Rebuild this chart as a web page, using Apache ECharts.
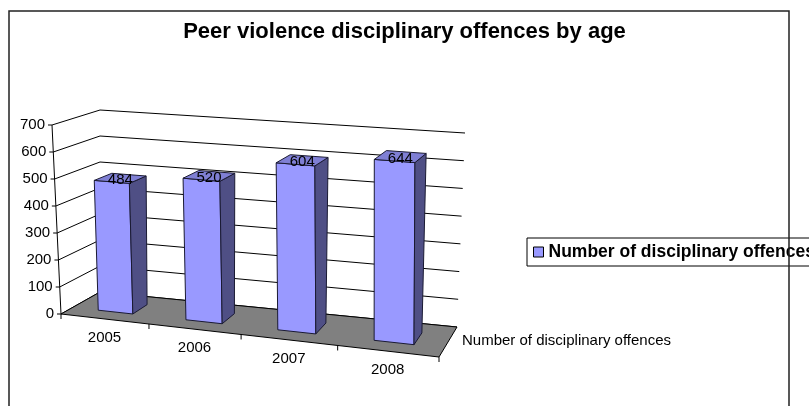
<!DOCTYPE html>
<html>
<head>
<meta charset="utf-8">
<script src="https://cdn.jsdelivr.net/npm/echarts@6/dist/echarts.min.js"></script>
<style>
  html, body { margin: 0; padding: 0; background: #fff; }
  #chart { width: 809px; height: 406px; }
</style>
</head>
<body>
<div id="chart"></div>
<script>
// ---- data ----
const years = ['2005', '2006', '2007', '2008'];
const offences = [484, 520, 604, 644];
const valueTicks = [0, 100, 200, 300, 400, 500, 600, 700];
const seriesName = 'Number of disciplinary offences';
const chartTitle = 'Peer violence disciplinary offences by age';

// ---- 3D box layout (screen corners: f/b = front/back, digits = right, top) ----
const box = {
  f00: [61, 314], f10: [439, 357], f01: [52, 125], f11: [438, 156],
  b00: [100, 292], b10: [457, 327], b01: [100, 110], b11: [465, 133]
};
const persp = -0.09;           // foreshortening along the category direction
const barDepth = [0.3, 0.7];   // bar front/back within the floor depth
const barFill = 0.4;           // bar width as a share of a category band
const FONT = '"Liberation Sans", Arial, sans-serif';

function lerp(a, b, t) { return [a[0] + (b[0] - a[0]) * t, a[1] + (b[1] - a[1]) * t]; }

// u: across categories (0..1), v: value share (0..1), w: depth (0 front .. 1 back)
function proj(u, v, w) {
  const p = (1 + persp) * u / (1 + persp * u);
  const fb = lerp(box.f00, box.f10, p), ft = lerp(box.f01, box.f11, p);
  const bb = lerp(box.b00, box.b10, p), bt = lerp(box.b01, box.b11, p);
  return lerp(lerp(fb, ft, v), lerp(bb, bt, v), w);
}

// turn a pixel from the hidden cartesian grid into unit (u, v)
function unit(params, pt) {
  const cs = params.coordSys;
  return [(pt[0] - cs.x) / cs.width, (cs.y + cs.height - pt[1]) / cs.height];
}

const chart = echarts.init(document.getElementById('chart'));

const option = {
  animation: false,
  backgroundColor: '#fff',
  title: {
    text: chartTitle,
    left: 'center',
    top: 16,
    textStyle: { fontFamily: FONT, fontSize: 22, fontWeight: 'bold', color: '#000' }
  },
  legend: {
    left: 527,
    top: 238,
    padding: [5, 6, 5, 6],
    borderColor: '#000',
    borderWidth: 1,
    itemWidth: 10,
    itemHeight: 10,
    data: [{ name: seriesName, icon: 'rect', itemStyle: { color: '#9999FF', borderColor: '#000', borderWidth: 1 } }],
    textStyle: { fontFamily: FONT, fontSize: 17.5, fontWeight: 'bold', color: '#000' },
    selectedMode: false
  },
  grid: { left: 100, top: 100, width: 400, height: 200, show: false },
  xAxis: { type: 'category', data: years, show: false },
  yAxis: { type: 'value', min: 0, max: 700, interval: 100, show: false },
  series: [
    // wall gridlines (left wall + back wall)
    {
      type: 'custom', name: 'walls', clip: false, silent: true, z: 1,
      data: valueTicks.map(v => [0, v]),
      renderItem(params, api) {
        const v = unit(params, api.coord([0, api.value(1)]))[1];
        return {
          type: 'polyline',
          shape: { points: [proj(0, v, 0), proj(0, v, 1), proj(1, v, 1)] },
          style: { stroke: '#000', lineWidth: 1, fill: null }
        };
      }
    },
    // floor
    {
      type: 'custom', name: 'floor', clip: false, silent: true, z: 2,
      data: [[0, 0]],
      renderItem(params, api) {
        const v = unit(params, api.coord([0, 0]))[1];
        return {
          type: 'polygon',
          shape: { points: [proj(0, v, 0), proj(1, v, 0), proj(1, v, 1), proj(0, v, 1)] },
          style: { fill: '#808080', stroke: '#000', lineWidth: 1 }
        };
      }
    },
    // columns
    {
      type: 'custom', name: seriesName, clip: false, silent: true, z: 3,
      itemStyle: { color: '#9999FF' },
      data: offences.map((v, i) => [i, v]),
      renderItem(params, api) {
        const i = api.value(0), val = api.value(1);
        const base = unit(params, api.coord([i, 0]));
        const top = unit(params, api.coord([i, val]));
        const uc = base[0];
        const hw = api.size([1, 0])[0] / params.coordSys.width * barFill / 2;
        const u0 = uc - hw, u1 = uc + hw, v0 = base[1], vt = top[1];
        const w0 = barDepth[0], w1 = barDepth[1];
        const edge = { stroke: '#1a1a33', lineWidth: 1, lineJoin: 'round' };
        const lp = proj(uc, vt, 0.5);
        return {
          type: 'group',
          children: [
            { type: 'polygon', shape: { points: [proj(u0, v0, w0), proj(u1, v0, w0), proj(u1, vt, w0), proj(u0, vt, w0)] },
              style: Object.assign({ fill: '#9999FF' }, edge) },
            { type: 'polygon', shape: { points: [proj(u1, v0, w0), proj(u1, v0, w1), proj(u1, vt, w1), proj(u1, vt, w0)] },
              style: Object.assign({ fill: '#4F4F85' }, edge) },
            { type: 'polygon', shape: { points: [proj(u0, vt, w0), proj(u1, vt, w0), proj(u1, vt, w1), proj(u0, vt, w1)] },
              style: Object.assign({ fill: '#7F7FD4' }, edge) },
            { type: 'text', x: lp[0], y: lp[1] + 2,
              style: { text: String(val), fill: '#000', font: '15px ' + FONT, align: 'center', verticalAlign: 'middle' } }
          ]
        };
      }
    },
    // value axis: line, ticks, labels
    {
      type: 'custom', name: 'valueAxis', clip: false, silent: true, z: 4,
      data: valueTicks.map(v => [0, v]),
      renderItem(params, api) {
        const val = api.value(1);
        const v = unit(params, api.coord([0, val]))[1];
        const p = proj(0, v, 0);
        const children = [
          { type: 'line', shape: { x1: p[0] - 4, y1: p[1], x2: p[0], y2: p[1] }, style: { stroke: '#000', lineWidth: 1 } },
          { type: 'text', x: p[0] - 7, y: p[1],
            style: { text: String(val), fill: '#000', font: '15px ' + FONT, align: 'right', verticalAlign: 'middle' } }
        ];
        if (params.dataIndex === 0) {
          const a = proj(0, 0, 0), b = proj(0, 1, 0);
          children.push({ type: 'line', shape: { x1: a[0], y1: a[1], x2: b[0], y2: b[1] }, style: { stroke: '#000', lineWidth: 1 } });
        }
        return { type: 'group', children };
      }
    },
    // category axis: ticks and labels along the floor front edge
    {
      type: 'custom', name: 'categoryAxis', clip: false, silent: true, z: 4,
      data: years.map((y, i) => [i, 0]),
      renderItem(params, api) {
        const i = api.value(0);
        const c = unit(params, api.coord([i, 0]));
        const half = api.size([1, 0])[0] / params.coordSys.width / 2;
        const lab = proj(c[0], c[1], 0);
        const t = proj(c[0] + half, c[1], 0);
        const children = [
          { type: 'line', shape: { x1: t[0], y1: t[1], x2: t[0], y2: t[1] + 5 }, style: { stroke: '#000', lineWidth: 1 } },
          { type: 'text', x: lab[0], y: lab[1] + 19,
            style: { text: years[i], fill: '#000', font: '15px ' + FONT, align: 'center', verticalAlign: 'middle' } }
        ];
        if (i === 0) {
          const t0 = proj(c[0] - half, c[1], 0);
          children.push({ type: 'line', shape: { x1: t0[0], y1: t0[1], x2: t0[0], y2: t0[1] + 5 }, style: { stroke: '#000', lineWidth: 1 } });
          const d = proj(1, c[1], 0.5);
          children.push({ type: 'text', x: d[0] + 14, y: d[1] - 1,
            style: { text: seriesName, fill: '#000', font: '15px ' + FONT, align: 'left', verticalAlign: 'middle' } });
        }
        return { type: 'group', children };
      }
    }
  ],
  graphic: [
    { type: 'rect', z: 100, silent: true,
      shape: { x: 9, y: 11, width: 780, height: 420 },
      style: { fill: null, stroke: '#222', lineWidth: 1.5 } }
  ]
};

chart.setOption(option);
</script>
</body>
</html>
